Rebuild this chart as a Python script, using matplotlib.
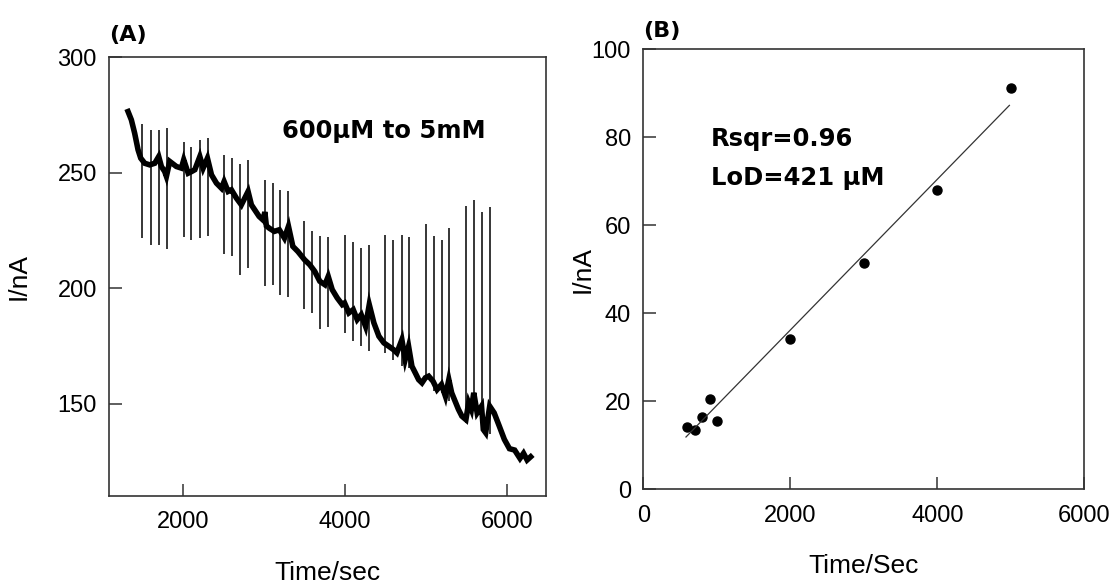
import matplotlib.pyplot as plt

# ---- panel A: amperometric trace, Time/sec vs I/nA ----
trace_t = [1321, 1362, 1403, 1445, 1478, 1527, 1589, 1651, 1700, 1733, 1774, 1795,
           1836, 1918, 1980, 2009, 2064, 2105, 2146, 2208, 2249, 2302, 2352, 2413,
           2475, 2508, 2557, 2598, 2660, 2721, 2804, 2845, 2940, 2990, 3011, 3030,
           3065, 3128, 3190, 3253, 3303, 3357, 3419, 3502, 3565, 3627, 3690, 3753,
           3794, 3843, 3905, 3967, 3996, 4049, 4103, 4152, 4202, 4255, 4301, 4358,
           4420, 4482, 4544, 4600, 4642, 4704, 4745, 4787, 4828, 4870, 4911, 4952,
           4994, 5035, 5089, 5139, 5193, 5242, 5284, 5319, 5361, 5403, 5445, 5495,
           5529, 5562, 5592, 5634, 5688, 5710, 5739, 5789, 5844, 5907, 5970, 6033,
           6097, 6163, 6207, 6251, 6295]
trace_i = [276.5, 272.9, 267.1, 259.9, 256.3, 254.1, 253.4, 254.1, 257.0, 252.7, 250.5, 248.4,
           254.9, 252.7, 252.0, 255.6, 249.8, 250.5, 251.3, 257.0, 252.0, 256.3, 249.1, 245.5,
           243.3, 246.2, 241.9, 242.6, 239.0, 236.1, 241.9, 236.1, 231.1, 229.5, 233.0, 227.0,
           226.0, 224.6, 225.3, 221.7, 226.8, 218.1, 215.9, 212.3, 210.2, 207.3, 203.0, 201.5,
           205.1, 199.4, 195.8, 192.9, 193.6, 189.3, 190.7, 186.4, 188.5, 183.5, 192.9, 185.0,
           179.2, 176.3, 174.8, 173.4, 172.0, 177.7, 169.1, 174.8, 166.2, 163.3, 160.4, 159.0,
           161.2, 161.9, 159.7, 156.1, 158.3, 153.2, 160.4, 154.7, 151.1, 147.5, 144.6, 143.1,
           150.4, 147.5, 154.7, 146.0, 148.9, 138.8, 137.4, 148.9, 146.0, 140.3, 134.5, 130.5,
           129.9, 126.3, 128.5, 125.6, 127.0]

# injection spikes (time, lowest and highest current)
spike_t = [1494, 1609, 1705, 1802, 2009, 2105, 2207, 2312, 2510, 2611, 2703, 2804,
           3011, 3108, 3204, 3297, 3495, 3596, 3688, 3794, 3996, 4106, 4194, 4295,
           4493, 4594, 4704, 4792, 4998, 5095, 5196, 5284, 5495, 5596, 5693, 5789]
spike_lo = [221.7, 218.8, 218.8, 217.0, 222.2, 220.7, 221.7, 222.4, 215.0, 213.8, 205.8, 208.7,
            200.8, 201.5, 197.2, 196.2, 191.0, 189.3, 182.5, 183.0, 180.6, 177.3, 174.8, 172.7,
            172.0, 169.1, 166.2, 165.5, 160.4, 155.4, 154.7, 151.0, 141.7, 147.5, 138.1, 136.7]
spike_hi = [271.0, 268.6, 268.3, 269.3, 263.1, 261.1, 264.0, 265.0, 257.7, 256.3, 253.9, 255.3,
            246.9, 245.5, 242.6, 241.9, 229.3, 224.9, 222.7, 222.2, 223.1, 219.8, 217.4, 218.5,
            223.1, 220.7, 223.1, 222.2, 227.8, 222.7, 221.0, 226.0, 235.7, 238.3, 232.8, 235.0]

# ---- panel B: calibration ----
calib_t = [600, 700, 800, 900, 1000, 2000, 3000, 4000, 5000]
calib_i = [14.2, 13.5, 16.5, 20.6, 15.5, 34.2, 51.4, 68.0, 91.2]
fit_t = [580, 4980]
slope, intercept = 0.01713, 1.95

tick_font = 'Liberation Sans'
note_font = 'DejaVu Sans'
frame_col = '#333333'

fig = plt.figure(figsize=(11.1, 5.85), dpi=100)
axA = fig.add_axes([0.0985, 0.1521, 0.3938, 0.750])
axB = fig.add_axes([0.5796, 0.1636, 0.3973, 0.7521])

# trace + spikes
axA.vlines(spike_t, spike_lo, spike_hi, color='black', lw=1.1)
axA.plot(trace_t, trace_i, color='black', lw=4, solid_joinstyle='miter')
axA.set_xlim(1090, 6490)
axA.set_ylim(110, 300)
axA.set_xticks([2000, 4000, 6000])
axA.set_yticks([150, 200, 250, 300])
axA.text(3223, 265, '600µM to 5mM', fontsize=17.5, fontweight='bold', family=note_font)
axA.set_xlabel('Time/sec', fontsize=19, family=tick_font)
axA.set_ylabel('I/nA', fontsize=19, family=tick_font)
axA.xaxis.set_label_coords(0.5, -0.148)
axA.yaxis.set_label_coords(-0.18, 0.5)

# calibration points + fitted line
axB.plot(calib_t, calib_i, 'o', color='black', ms=6.5)
axB.plot(fit_t, [slope * t + intercept for t in fit_t], color='#333333', lw=0.9)
axB.set_xlim(0, 6000)
axB.set_ylim(0, 100)
axB.set_xticks([0, 2000, 4000, 6000])
axB.set_yticks([0, 20, 40, 60, 80, 100])
axB.text(920, 78.1, 'Rsqr=0.96', fontsize=17.5, fontweight='bold', family=note_font)
axB.text(920, 69.2, 'LoD=421 µM', fontsize=17.5, fontweight='bold', family=note_font)
axB.set_xlabel('Time/Sec', fontsize=19, family=tick_font)
axB.set_ylabel('I/nA', fontsize=19, family=tick_font)
axB.xaxis.set_label_coords(0.5, -0.147)
axB.yaxis.set_label_coords(-0.11, 0.5)

for ax in (axA, axB):
    ax.tick_params(direction='in', length=9, width=1.1, color=frame_col, labelsize=17,
                   top=False, right=False)
    ax.tick_params(axis='x', pad=11)
    ax.tick_params(axis='y', pad=9)
    for lab in ax.get_xticklabels() + ax.get_yticklabels():
        lab.set_family(tick_font)
    for s in ax.spines.values():
        s.set_color(frame_col)
        s.set_linewidth(1.2)

fig.text(0.0985, 0.94, '(A)', fontsize=16, fontweight='bold', family=note_font, va='center')
fig.text(0.5796, 0.947, '(B)', fontsize=16, fontweight='bold', family=note_font, va='center')

fig.savefig('out.png', dpi=100)
